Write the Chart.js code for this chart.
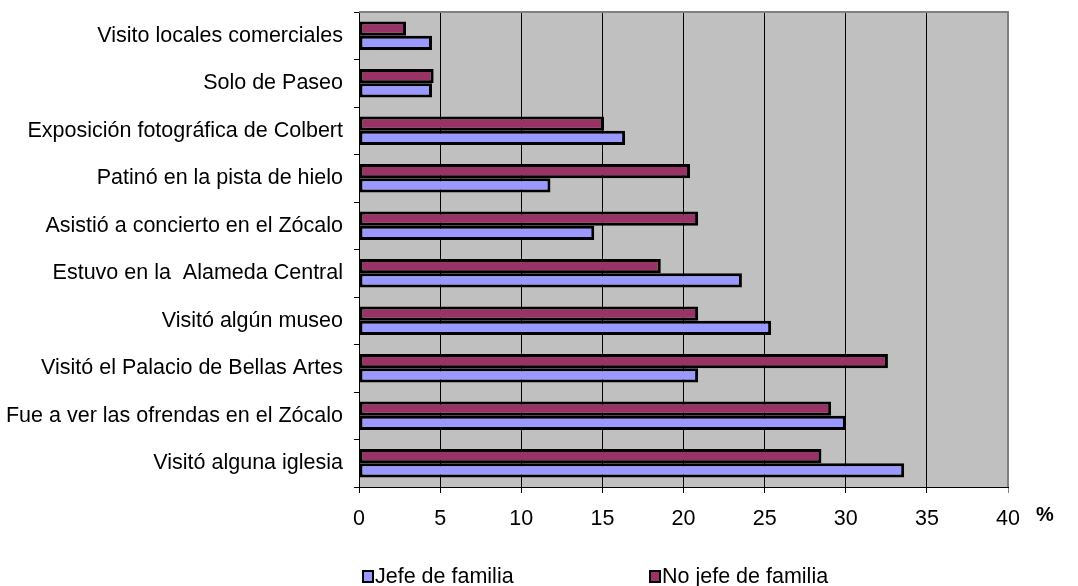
<!DOCTYPE html>
<html>
<head>
<meta charset="utf-8">
<script src="https://cdn.jsdelivr.net/npm/chart.js@4"></script>
<style>
html,body{margin:0;padding:0;background:#fff;}
#wrap{position:relative;width:1078px;height:586px;}
</style>
</head>
<body>
<div id="wrap"><canvas id="c"></canvas></div>
<script>
const categories = [
  "Visito locales comerciales",
  "Solo de Paseo",
  "Exposición fotográfica de Colbert",
  "Patinó en la pista de hielo",
  "Asistió a concierto en el Zócalo",
  "Estuvo en la  Alameda Central",
  "Visitó algún museo",
  "Visitó el Palacio de Bellas Artes",
  "Fue a ver las ofrendas en el Zócalo",
  "Visitó alguna iglesia"
];
const noJefeValues = [2.9, 4.6, 15.1, 20.4, 20.9, 18.6, 20.9, 32.6, 29.1, 28.5];
const jefeValues   = [4.5, 4.5, 16.4, 11.8, 14.5, 23.6, 25.4, 20.9, 30.0, 33.6];
const xTicks = [0, 5, 10, 15, 20, 25, 30, 35, 40];
const seriesNames = ["No jefe de familia", "Jefe de familia"];
const unitLabel = "%";

const FONT = "'Liberation Sans', Arial, sans-serif";
const FS = 21.5;

const decor = {
  id: 'decor',
  beforeDraw(chart) {
    const {ctx, chartArea: a} = chart;
    ctx.save();
    ctx.fillStyle = '#C0C0C0';
    ctx.fillRect(a.left, a.top, a.right - a.left, a.bottom - a.top);
    ctx.restore();
  },
  afterDraw(chart) {
    const {ctx, chartArea: a} = chart;
    ctx.save();
    ctx.strokeStyle = '#808080';
    ctx.lineWidth = 2;
    ctx.beginPath();
    ctx.moveTo(a.left, a.top);
    ctx.lineTo(a.right, a.top);
    ctx.lineTo(a.right, a.bottom);
    ctx.stroke();
    ctx.fillStyle = '#000';
    ctx.font = 'bold 20px ' + FONT;
    ctx.textBaseline = 'middle';
    ctx.textAlign = 'left';
    ctx.fillText(unitLabel, a.right + 28, a.bottom + 28);
    const legendX = [363, 650];
    const order = [1, 0];
    ctx.font = FS + 'px ' + FONT;
    order.forEach((di, i) => {
      const ds = chart.data.datasets[di];
      const x = legendX[i], y = 577;
      ctx.fillStyle = ds.backgroundColor;
      ctx.fillRect(x, y - 6, 10, 11);
      ctx.strokeStyle = '#000';
      ctx.lineWidth = 2;
      ctx.strokeRect(x, y - 6, 10, 11);
      ctx.fillStyle = '#000';
      ctx.fillText(ds.label, x + 12, y);
    });
    ctx.restore();
  }
};

new Chart(document.getElementById('c'), {
  type: 'bar',
  data: {
    labels: categories,
    datasets: [
      {label: seriesNames[0], data: noJefeValues, backgroundColor: '#993366', borderColor: '#000', borderWidth: 3, borderSkipped: false},
      {label: seriesNames[1], data: jefeValues, backgroundColor: '#9999FF', borderColor: '#000', borderWidth: 3, borderSkipped: false}
    ]
  },
  options: {
    indexAxis: 'y',
    responsive: true,
    maintainAspectRatio: false,
    animation: false,
    layout: {padding: {top: 12, right: 70, bottom: 0, left: 0}},
    datasets: {bar: {categoryPercentage: 0.6, barPercentage: 1.0}},
    plugins: {legend: {display: false}, tooltip: {enabled: false}},
    scales: {
      x: {
        min: 0, max: 40,
        afterBuildTicks(scale) { scale.ticks = xTicks.map(v => ({value: v})); },
        afterFit(scale) { scale.height = 99; },
        border: {display: true, color: '#000', width: 1},
        grid: {
          color: (c) => c.index === xTicks.length - 1 ? '#808080' : '#000',
          lineWidth: 1,
          tickLength: 6,
          drawTicks: true
        },
        ticks: {color: '#000', font: {family: FONT, size: FS}, padding: 13, maxRotation: 0}
      },
      y: {
        afterFit(scale) { scale.width = 359; scale.paddingTop = 0; scale.paddingBottom = 0; },
        border: {display: true, color: '#000', width: 1},
        grid: {drawOnChartArea: false, drawTicks: true, tickLength: 5, color: '#000', offset: true},
        ticks: {color: '#000', font: {family: FONT, size: FS}, padding: 11, autoSkip: false}
      }
    }
  },
  plugins: [decor]
});
</script>
</body>
</html>
